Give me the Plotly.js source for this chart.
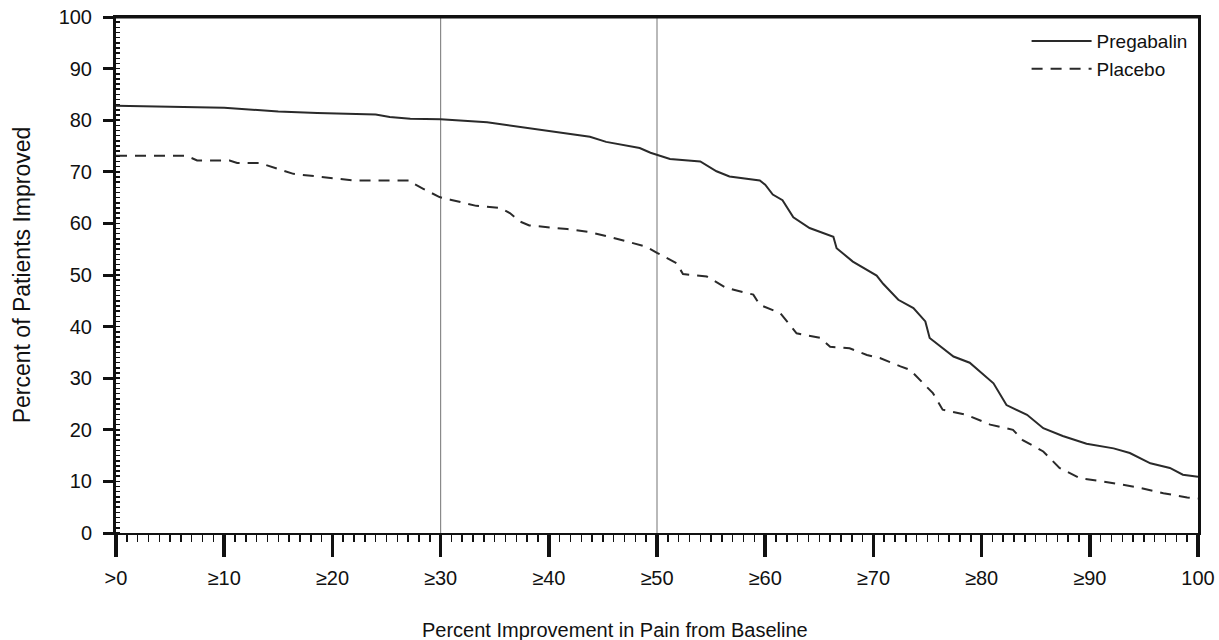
<!DOCTYPE html>
<html>
<head>
<meta charset="utf-8">
<script src="https://cdn.plot.ly/plotly-3.0.1.min.js"></script>
<style>html,body{margin:0;padding:0;background:#fff;}#chart{width:1219px;height:640px;}</style>
</head>
<body>
<div id="chart"></div>
<script>
// Percent improvement threshold (x) and percent of patients improved (y)
const pregabalinX = [0, 5, 10, 15, 18.6, 24, 25.3, 27.2, 30, 34.3, 38, 41, 43.8, 45.3, 48.4, 49.4, 50, 51.2, 54, 55.5, 56.7, 59.5, 60, 60.7, 61.6, 62.6, 64.1, 66.3, 66.6, 68.1, 70.3, 70.9, 72.3, 73.7, 74.8, 75.2, 77.4, 78.9, 81.1, 82.3, 84.2, 85.7, 87.5, 89.7, 92.2, 93.7, 95.6, 97.4, 98.6, 100];
const pregabalinY = [82.8, 82.6, 82.4, 81.7, 81.4, 81.1, 80.6, 80.3, 80.2, 79.6, 78.5, 77.7, 76.8, 75.8, 74.6, 73.7, 73.3, 72.5, 72.0, 70.1, 69.1, 68.3, 67.5, 65.6, 64.5, 61.2, 59.1, 57.4, 55.2, 52.6, 49.9, 48.3, 45.2, 43.6, 41.0, 37.8, 34.2, 33.0, 29.0, 24.8, 22.9, 20.3, 18.8, 17.3, 16.4, 15.5, 13.5, 12.6, 11.3, 10.9];

const placeboX = [0, 6.5, 7.5, 10.5, 11.2, 13.3, 16.4, 21, 22, 27.2, 27.5, 28.4, 29.9, 30.9, 33.3, 35.5, 36.4, 37.3, 38.2, 41.7, 43.8, 45.4, 47.8, 49, 50, 51.8, 52.4, 54.6, 56.4, 58.9, 59.5, 61.4, 62.9, 65.1, 66, 67.8, 69.4, 70.6, 72.5, 73.4, 75.5, 76.4, 78.6, 80.8, 82.9, 83.8, 85.7, 87.2, 89.1, 91.2, 94.3, 96.8, 99, 100];
const placeboY = [73.1, 73.1, 72.2, 72.2, 71.7, 71.7, 69.6, 68.6, 68.3, 68.3, 67.7, 66.7, 65.1, 64.6, 63.4, 63.0, 62.0, 60.4, 59.6, 58.9, 58.3, 57.5, 56.2, 55.5, 54.3, 52.3, 50.2, 49.7, 47.5, 46.2, 44.2, 42.6, 38.7, 37.8, 36.1, 35.8, 34.5, 33.9, 32.3, 31.6, 27.1, 23.9, 22.9, 21.0, 20.0, 18.0, 15.8, 12.6, 10.6, 10.0, 8.9, 7.7, 6.9, 6.7];

const xTickVals = [0, 10, 20, 30, 40, 50, 60, 70, 80, 90, 100];
const xTickText = ['>0', '≥10', '≥20', '≥30', '≥40', '≥50', '≥60', '≥70', '≥80', '≥90', '100'];
const yTickVals = [0, 10, 20, 30, 40, 50, 60, 70, 80, 90, 100];
const refLines = [30, 50];
const xTitle = 'Percent Improvement in Pain from Baseline';
const yTitle = 'Percent of Patients Improved';

const FONT = 'Liberation Sans, Arial, sans-serif';
const INK = '#111';

const traces = [
  {x: pregabalinX, y: pregabalinY, name: 'Pregabalin', type: 'scatter', mode: 'lines',
   line: {color: '#2a2a2a', width: 2}},
  {x: placeboX, y: placeboY, name: 'Placebo', type: 'scatter', mode: 'lines',
   line: {color: '#2a2a2a', width: 2, dash: '11px,8px'}}
];

const shapes = refLines.map(v => ({type: 'line', xref: 'x', yref: 'paper', x0: v, x1: v, y0: 0, y1: 1,
  line: {color: '#8a8a8a', width: 1.2}, layer: 'below'}));
shapes.push({type: 'line', xref: 'paper', yref: 'paper', x0: 0, x1: 1, y0: 1, y1: 1, line: {color: INK, width: 3}});

const layout = {
  width: 1219, height: 640,
  margin: {l: 116, r: 21, t: 17, b: 107},
  paper_bgcolor: '#fff', plot_bgcolor: '#fff',
  font: {family: FONT, size: 20, color: INK},
  showlegend: true,
  legend: {x: 0.995, y: 0.99, xanchor: 'right', yanchor: 'top', bgcolor: 'rgba(0,0,0,0)',
    font: {family: FONT, size: 19, color: INK}, tracegroupgap: 0, itemwidth: 60},
  xaxis: {
    range: [0, 100], showgrid: false, zeroline: false,
    showline: true, linecolor: INK, linewidth: 2, mirror: true,
    tickmode: 'array', tickvals: xTickVals, ticktext: xTickText,
    ticks: 'outside', ticklen: 22, tickwidth: 3.5, tickcolor: INK, ticklabelstandoff: 4,
    tickfont: {family: FONT, size: 20, color: INK},
    minor: {dtick: 1, ticks: 'outside', ticklen: 7, tickwidth: 1.5, tickcolor: INK, showgrid: false}
  },
  yaxis: {
    range: [0, 100], showgrid: false, zeroline: false,
    showline: true, linecolor: INK, linewidth: 3, mirror: true,
    tickmode: 'array', tickvals: yTickVals,
    ticks: 'outside', ticklen: 10, tickwidth: 3, tickcolor: INK, ticklabelstandoff: 7,
    tickfont: {family: FONT, size: 20, color: INK},
    minor: {dtick: 1, ticks: 'inside', ticklen: 4, tickwidth: 1.5, tickcolor: INK, showgrid: false},
    title: {text: yTitle, standoff: 22,
      font: {family: FONT, size: 23, color: INK}}
  },
  annotations: [
    {text: xTitle, xref: 'paper', yref: 'paper', x: 0.461, y: -0.188, xanchor: 'center', yanchor: 'middle',
     showarrow: false, font: {family: FONT, size: 20, color: INK}}
  ],
  shapes: shapes
};

Plotly.newPlot('chart', traces, layout, {staticPlot: true, displayModeBar: false});
</script>
</body>
</html>
